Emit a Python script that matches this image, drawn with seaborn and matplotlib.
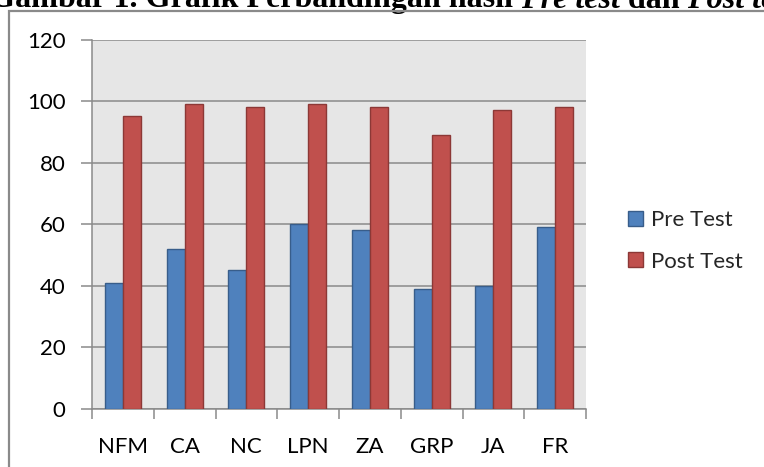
import numpy as np
import pandas as pd
import matplotlib
matplotlib.use("Agg")
import matplotlib.pyplot as plt
import seaborn as sns
from matplotlib.patches import Rectangle, Patch

# Scores per student
students = ["NFM", "CA", "NC", "LPN", "ZA", "GRP", "JA", "FR"]
pre_test = [41, 52, 45, 60, 58, 39, 40, 59]
post_test = [95, 99, 98, 99, 98, 89, 97, 98]
series = ["Pre Test", "Post Test"]
y_ticks = [0, 20, 40, 60, 80, 100, 120]

fills = {"Pre Test": "#4f81bd", "Post Test": "#c0504d"}
edges = {"Pre Test": "#385d8a", "Post Test": "#8c3836"}

df = pd.DataFrame({
    "Siswa": students * 2,
    "Nilai": pre_test + post_test,
    "Tes": [series[0]] * len(students) + [series[1]] * len(students),
})

sns.set_theme(style="white")
plt.rcParams["font.family"] = ["Lato", "DejaVu Sans"]

W, H = 764, 467
fig = plt.figure(figsize=(W / 100, H / 100), dpi=100)
ax = fig.add_axes([92 / W, 1 - 409 / H, (586 - 92) / W, (409 - 39.5) / H])

sns.barplot(data=df, x="Siswa", y="Nilai", hue="Tes", hue_order=series,
            palette=fills, width=0.58, gap=0, saturation=1, ax=ax,
            legend=False, zorder=3)

for cont, name in zip(ax.containers, series):
    for bar in cont:
        bar.set_edgecolor(edges[name])
        bar.set_linewidth(1.0)

ax.set_facecolor("#e6e6e6")
ax.set_ylim(0, 120)
ax.set_xlim(-0.5, len(students) - 0.5)
ax.set_yticks(y_ticks)
ax.yaxis.grid(True, color="#8a8a8a", linewidth=1.1, zorder=0)
ax.set_axisbelow(True)
ax.set_xlabel("")
ax.set_ylabel("")

for side in ["top", "right"]:
    ax.spines[side].set_visible(False)
for side in ["left", "bottom"]:
    ax.spines[side].set_color("#8a8a8a")
    ax.spines[side].set_linewidth(1.1)

ax.tick_params(axis="y", which="major", direction="out", length=8, width=1.1,
               color="#8a8a8a", pad=11, labelsize=16, labelcolor="black", left=True)
ax.set_xticks(np.arange(-0.5, len(students), 1), minor=True)
ax.tick_params(axis="x", which="minor", direction="out", length=7, width=1.1,
               color="#8a8a8a", bottom=True)
ax.tick_params(axis="x", which="major", length=0, pad=20, labelsize=16,
               labelcolor="black")

# Legend to the right of the plot area
handles = [Patch(facecolor=fills[s], edgecolor=edges[s], linewidth=1.0) for s in series]
fig.legend(handles, series, loc="center left", bbox_to_anchor=(617 / W, 1 - 241 / H),
           frameon=False, fontsize=16, handlelength=0.68, handleheight=0.68,
           handletextpad=0.35, labelspacing=0.95, borderpad=0)

# Outer chart frame
fig.patches.append(Rectangle((9 / W, -0.1), 1.2, 1 - 11 / H + 0.1,
                             transform=fig.transFigure, fill=False,
                             edgecolor="#8a8a8a", linewidth=1.6, zorder=10))

# Caption above the frame, mixing bold and bold italic runs
runs = [("Gambar 1. Grafik Perbandingan hasil ", "normal"),
        ("Pre test", "italic"),
        (" dan ", "normal"),
        ("Post test", "italic")]
fig.canvas.draw()
renderer = fig.canvas.get_renderer()
cap_kw = dict(fontsize=23.1, fontweight="bold", family="Liberation Serif",
              color="black", va="baseline", ha="left")
x = -10.0
for txt, style in runs:
    t = fig.text(x / W, 1 - 7.5 / H, txt, fontstyle=style, **cap_kw)
    x += t.get_window_extent(renderer).width

fig.savefig("out.png", dpi=100)
